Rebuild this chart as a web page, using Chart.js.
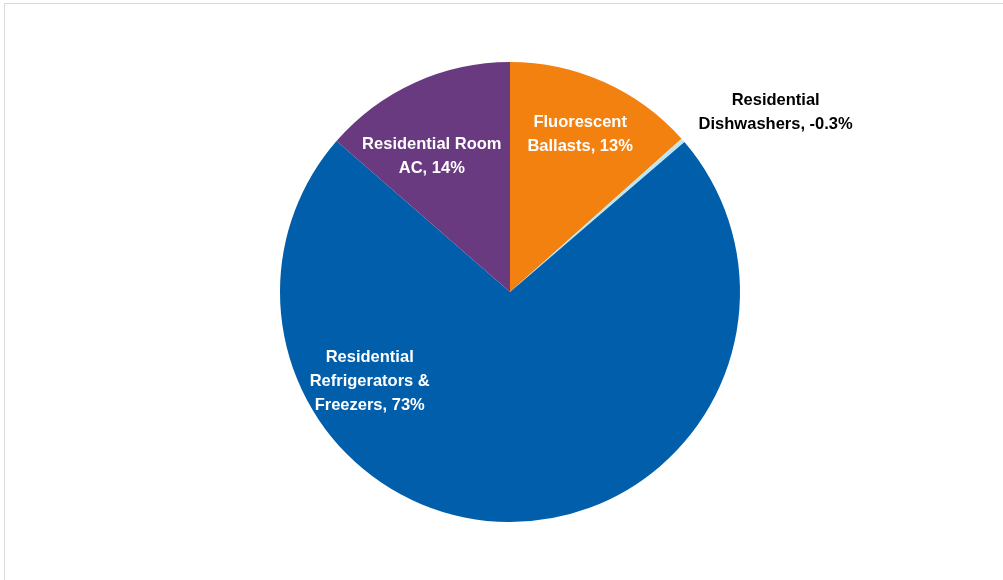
<!DOCTYPE html>
<html>
<head>
<meta charset="utf-8">
<script src="https://cdn.jsdelivr.net/npm/chart.js@4"></script>
<style>
  html, body { margin: 0; padding: 0; background: #fff; }
  #wrap { position: relative; width: 1003px; height: 580px; }
  #frame { position: absolute; left: 4px; top: 3px; right: 0; bottom: 0;
           border-top: 1px solid #d9d9d9; border-left: 1px solid #d9d9d9; }
  canvas { position: absolute; left: 0; top: 0; }
</style>
</head>
<body>
<div id="wrap">
  <div id="frame"></div>
  <canvas id="grafico" width="1003" height="580"></canvas>
</div>
<script>
// categorias e valores (percentual de cada medida)
const categorias = [
    ['Fluorescent', 'Ballasts'],
    ['Residential', 'Dishwashers'],
    ['Residential', 'Refrigerators &', 'Freezers'],
    ['Residential Room', 'AC']
];
const valores = [13.4, -0.3, 72.7, 13.6];
const cores = ['#f28110', '#bfe6ef', '#005eab', '#693a7f'];
const coresTexto = ['#ffffff', '#000000', '#ffffff', '#ffffff'];

function formatar(v) {
    return Math.abs(v) < 1 ? v.toFixed(1) + '%' : Math.round(v) + '%';
}

// posicao dos rotulos relativa ao centro, em fracoes do raio
const posRotulos = [
    { x: 0.305, y: -0.685 },
    { x: 1.155, y: -0.78 },
    { x: -0.61, y: 0.39 },
    { x: -0.34, y: -0.59 }
];

const rotulosPlugin = {
    id: 'rotulos',
    afterDatasetsDraw(chart) {
        const ctx = chart.ctx;
        const arcs = chart.getDatasetMeta(0).data;
        ctx.save();
        ctx.font = 'bold 16.5px "Liberation Sans", Arial, sans-serif';
        ctx.textAlign = 'center';
        ctx.textBaseline = 'middle';
        arcs.forEach((arc, i) => {
            const r = arc.outerRadius;
            const cx = arc.x + posRotulos[i].x * r;
            const cy = arc.y + posRotulos[i].y * r;
            const linhas = categorias[i].slice();
            linhas[linhas.length - 1] += ', ' + formatar(valores[i]);
            const alt = 23.8;
            const y0 = cy - (linhas.length - 1) * alt / 2;
            ctx.fillStyle = coresTexto[i];
            linhas.forEach((l, k) => ctx.fillText(l, cx, y0 + k * alt));
        });
        ctx.restore();
    }
};

new Chart(document.getElementById('grafico'), {
    type: 'pie',
    data: {
        labels: categorias.map(c => c.join(' ')),
        datasets: [{
            data: valores.map(v => Math.abs(v)),
            backgroundColor: cores,
            borderWidth: 0
        }]
    },
    options: {
        responsive: false,
        animation: false,
        layout: { padding: { top: 62, bottom: 58, left: 280, right: 263 } },
        plugins: {
            legend: { display: false },
            tooltip: { enabled: false }
        }
    },
    plugins: [rotulosPlugin]
});
</script>
</body>
</html>
